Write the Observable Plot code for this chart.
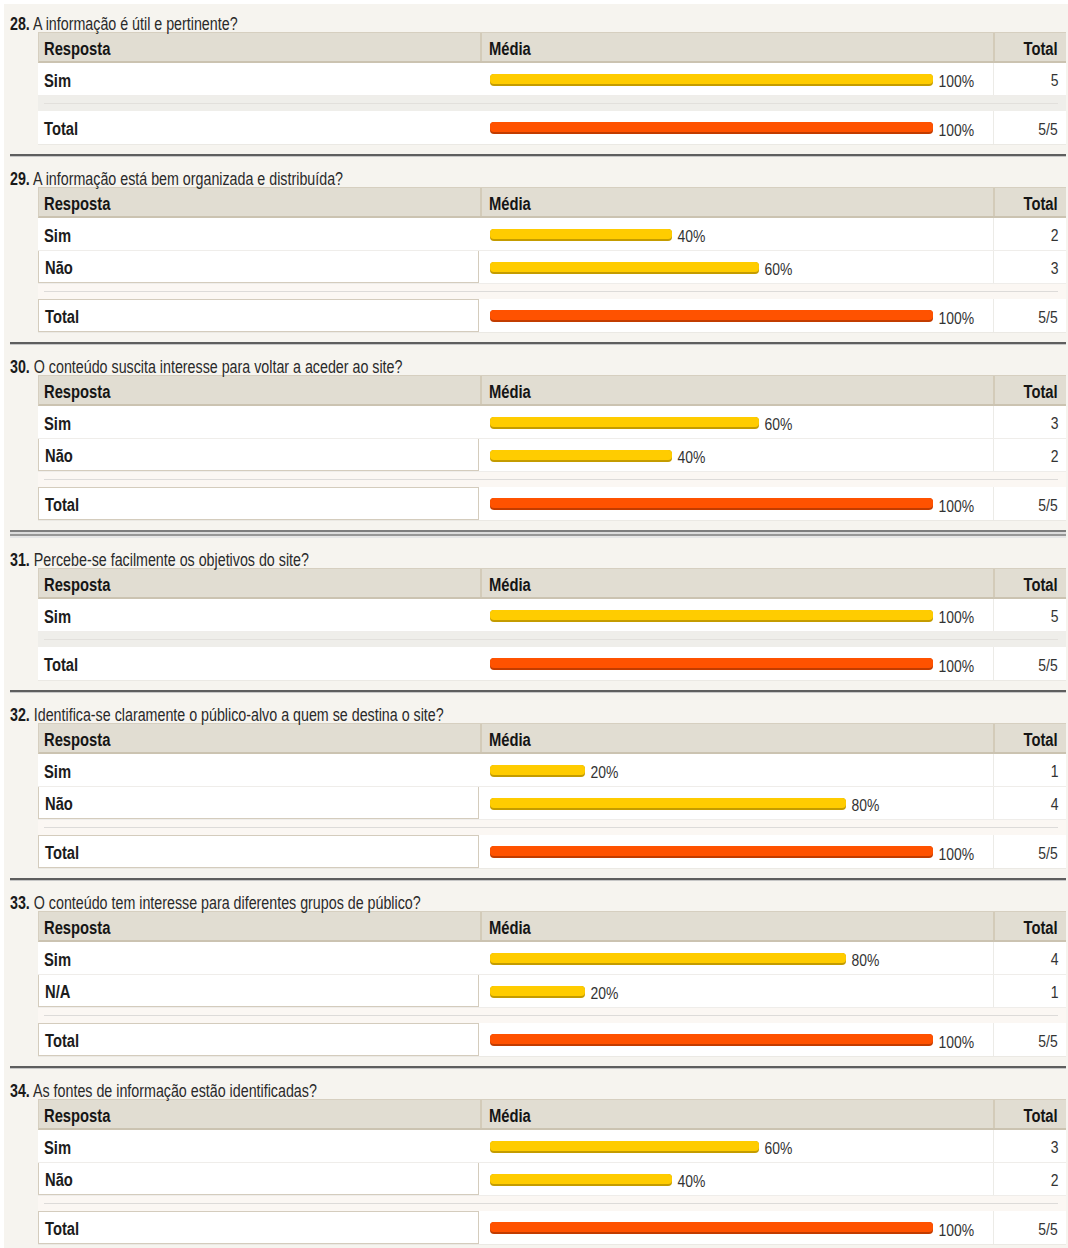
<!DOCTYPE html>
<html>
<head>
<meta charset="utf-8">
<script src="https://cdn.jsdelivr.net/npm/d3@7"></script>
<script src="https://cdn.jsdelivr.net/npm/@observablehq/plot@0.6"></script>
<style>
  body { margin: 0; background: #ffffff; }
  #page { position: absolute; left: 4px; top: 4px; width: 1064px; height: 1244px; background: #f6f4ef;
          font-family: "Liberation Sans", Arial, sans-serif; }
  .n { display: inline-block; transform: translateY(2px) scaleX(0.82); transform-origin: 0 50%; white-space: nowrap; }
  .c3 .n { transform-origin: 100% 50%; }
  .title { height: 30px; padding: 10px 0 0 6px; box-sizing: border-box; font-size: 17.5px; line-height: 20px; color: #2a2a2a; white-space: nowrap; }
  .title .n { transform: translateY(1.5px) scaleX(0.815); }
  .first .title { height: 28px; padding-top: 8px; }
  .title b { color: #1a1a1a; }
  .tbl { margin-left: 34px; width: 1028px; }
  .row { display: flex; height: 33px; box-sizing: border-box; background: #fff; border-bottom: 1px solid #efedea; }
  .row.tot { height: 34px; border-bottom: 1px solid #ebe9e4; }
  .cell { box-sizing: border-box; height: 100%; display: flex; align-items: center; position: relative; }
  .c1 { width: 441px; padding-left: 6px; font-weight: bold; font-size: 18px; color: #1c1c1c; }
  .c2 { width: 514px; }
  .c3 { width: 73px; justify-content: flex-end; padding-right: 8px; font-size: 17px; color: #333; border-left: 1px solid #ecebe7; }
  .hdr { height: 31px; background: #e1ddd2; border-top: 1px solid #d6cfc0; border-bottom: 2px solid #cbc3b1; border-left: 1px solid #d6cfc0; }
  .hdr .cell { font-weight: bold; font-size: 18px; color: #151515; }
  .hdr .c1 { padding-left: 5px; }
  .hdr .c2 { padding-left: 7px; border-left: 2px solid #d3cbb9; }
  .hdr .c3 { border-left: 2px solid #d3cbb9; }
  .bx { border-left: 1px solid #d4ccbd; border-right: 1px solid #d4ccbd; border-bottom: 1px solid #d4ccbd; }
  .bxt { border: 1px solid #d4ccbd; }
  .sp { height: 15px; position: relative; background: #fbf7f3; }
  .sp::after { content: ""; position: absolute; left: 6px; right: 8px; top: 7px; height: 1px; background: #dddbd9; }
  .sp.single { background: #efeeea; }
  .sp.single::after { background: #e2e0dc; }
  .sep { margin: 9px 0 0 6px; width: 1056px; height: 3px; box-sizing: border-box; border-top: 2px solid #5e5e5e; border-bottom: 1px solid #c6c6c6; }
  .sep.double { height: 8px; border: none;
    background: linear-gradient(#7e7e7e 0 2px, #dcdcdc 2px 4px, #979797 4px 6px, #e6e6e6 6px 8px); }
  .c2 svg { display: block; }
</style>
</head>
<body>
<div id="page"></div>
<script>
// ---- data ----
const qNumbers = [28, 29, 30, 31, 32, 33, 34];
const qTexts = [
  "A informação é útil e pertinente?",
  "A informação está bem organizada e distribuída?",
  "O conteúdo suscita interesse para voltar a aceder ao site?",
  "Percebe-se facilmente os objetivos do site?",
  "Identifica-se claramente o público-alvo a quem se destina o site?",
  "O conteúdo tem interesse para diferentes grupos de público?",
  "As fontes de informação estão identificadas?"
];
const qAnswers = [["Sim"], ["Sim", "Não"], ["Sim", "Não"], ["Sim"], ["Sim", "Não"], ["Sim", "N/A"], ["Sim", "Não"]];
const qCounts = [[5], [2, 3], [3, 2], [5], [1, 4], [4, 1], [3, 2]];
const qRespondents = [5, 5, 5, 5, 5, 5, 5];
const columnHeaders = ["Resposta", "Média", "Total"];
const totalLabel = "Total";
const doubleRuleAfter = 30;

// ---- drawing ----
const FONT = '"Liberation Sans", Arial, sans-serif';
const SQUEEZE = 0.82;

function barCell(pct, isTotal, h) {
  const main = isTotal ? "#ff5200" : "#ffcc00";
  const shade = isTotal ? "#c23c00" : "#c49c00";
  const svg = Plot.plot({
    width: 514, height: h,
    margin: 0, marginLeft: 19, marginRight: 60,
    x: {domain: [0, 100], axis: null},
    style: {background: "transparent", overflow: "visible"},
    marks: [
      Plot.rect([pct], {x1: () => 0, x2: d => d, insetLeft: -8, insetTop: 11, insetBottom: h - 23, rx: 4, fill: shade}),
      Plot.rect([pct], {x1: () => 0, x2: d => d, insetLeft: -8, insetTop: 11, insetBottom: h - 21, rx: 4, fill: main}),
      Plot.text([pct], {x: d => d, text: d => d + "%", dx: 5, dy: 2, textAnchor: "start", fontSize: 17, fontFamily: FONT, fill: "#333"})
    ]
  });
  // condensed look of the original narrow face
  svg.querySelectorAll("text").forEach(t => {
    const tr = t.getAttribute("transform");
    if (tr) {
      t.setAttribute("transform", tr + ` scale(${SQUEEZE},1)`);
    } else {
      const x = +(t.getAttribute("x") || 0);
      t.setAttribute("x", 0);
      t.setAttribute("transform", `translate(${x},0) scale(${SQUEEZE},1)`);
    }
  });
  return svg;
}

function el(tag, cls, text) {
  const e = document.createElement(tag);
  if (cls) e.className = cls;
  if (text != null) e.textContent = text;
  return e;
}
function cell(cls, text) {
  const c = el("div", "cell " + cls);
  c.appendChild(el("span", "n", text));
  return c;
}

const page = document.getElementById("page");
qNumbers.forEach((num, qi) => {
  const block = el("div", qi === 0 ? "block first" : "block");
  const title = el("div", "title");
  const tspan = el("span", "n");
  tspan.appendChild(el("b", null, num + "."));
  tspan.appendChild(document.createTextNode(" " + qTexts[qi]));
  title.appendChild(tspan);
  block.appendChild(title);

  const tbl = el("div", "tbl");
  const hdr = el("div", "row hdr");
  hdr.appendChild(cell("c1", columnHeaders[0]));
  hdr.appendChild(cell("c2", columnHeaders[1]));
  hdr.appendChild(cell("c3", columnHeaders[2]));
  tbl.appendChild(hdr);

  const answers = qAnswers[qi], counts = qCounts[qi], n = qRespondents[qi];
  const multi = answers.length > 1;
  answers.forEach((a, ai) => {
    const row = el("div", "row");
    const last = ai === answers.length - 1;
    row.appendChild(cell("c1" + (multi && last ? " bx" : ""), a));
    const c2 = el("div", "cell c2");
    c2.appendChild(barCell(Math.round(counts[ai] / n * 100), false, 33));
    row.appendChild(c2);
    row.appendChild(cell("c3", String(counts[ai])));
    tbl.appendChild(row);
  });
  tbl.appendChild(el("div", multi ? "sp" : "sp single"));
  const sum = d3.sum(counts);
  const tot = el("div", "row tot");
  tot.appendChild(cell("c1" + (multi ? " bxt" : ""), totalLabel));
  const c2 = el("div", "cell c2");
  c2.appendChild(barCell(Math.round(sum / n * 100), true, 34));
  tot.appendChild(c2);
  tot.appendChild(cell("c3", sum + "/" + n));
  tbl.appendChild(tot);
  block.appendChild(tbl);

  if (qi < qNumbers.length - 1) {
    block.appendChild(el("div", num === doubleRuleAfter ? "sep double" : "sep"));
  }
  page.appendChild(block);
});
</script>
</body>
</html>
